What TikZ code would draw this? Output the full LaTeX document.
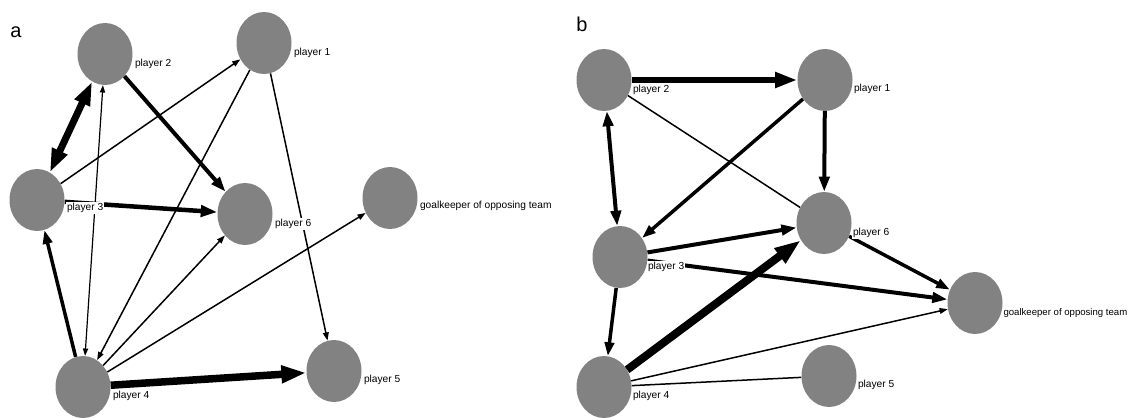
\documentclass[tikz,border=0pt]{standalone}
\usepackage{fontspec}
\setmainfont{Liberation Sans}
\usetikzlibrary{arrows.meta,shapes.geometric}
\definecolor{nodegray}{RGB}{130,130,130}
\pgfdeclarelayer{edges}
\pgfsetlayers{edges,main}
\tikzset{
  player/.style={ellipse, fill=nodegray, minimum width=55pt, minimum height=62pt, inner sep=0pt},
  lab/.style={anchor=west, fill=white, inner sep=0.8pt, font=\fontsize{10.2}{11}\selectfont},
  panel/.style={font=\fontsize{20}{22}\selectfont, inner sep=0pt},
  tip/.tip={Triangle[length=4pt 2.8, width=3pt 1.8]},
  pass/.style={draw=black, line join=miter, -tip},
  both/.style={draw=black, line join=miter, tip-tip},
  plain/.style={draw=black},
}
\begin{document}
\begin{tikzpicture}[x=1pt, y=-1pt]
\useasboundingbox (0,0) rectangle (1131,419);

% ---------- panel a ----------
\node[panel] (ta) at (16,32) {a};
\node[player] (p1a) at (264,43)  {};
\node[player] (p2a) at (105,54)  {};
\node[player] (p3a) at (37,200)  {};
\node[player] (p6a) at (245,214) {};
\node[player] (gka) at (390,198) {};
\node[player] (p4a) at (83,387)  {};
\node[player] (p5a) at (334,371) {};

\begin{pgfonlayer}{edges}
  \draw[both, line width=7pt]   (p3a) -- (p2a);
  \draw[pass, line width=1.5pt] (p3a) -- (p1a);
  \draw[pass, line width=4pt]   (p2a) -- (p6a);
  \draw[both, line width=1.2pt] (p2a) -- (p4a);
  \draw[pass, line width=4.5pt] (p3a) -- (p6a);
  \draw[pass, line width=1.5pt] (p1a) -- (p4a);
  \draw[pass, line width=1.5pt] (p1a) -- (p5a);
  \draw[pass, line width=3.5pt] (p4a) -- (p3a);
  \draw[pass, line width=1.5pt] (p4a) -- (p6a);
  \draw[pass, line width=1.5pt] (p4a) -- (gka);
  \draw[pass, line width=7.5pt] (p4a) -- (p5a);
\end{pgfonlayer}

\node[lab] (l1a) at ([shift={(29,10)}]p1a.center) {player 1};
\node[lab] (l2a) at ([shift={(29,10)}]p2a.center) {player 2};
\node[lab] (l3a) at ([shift={(29,8)}]p3a.center)  {player 3};
\node[lab] (l6a) at ([shift={(29,10)}]p6a.center) {player 6};
\node[lab] (lga) at ([shift={(29,8)}]gka.center)  {goalkeeper of opposing team};
\node[lab] (l4a) at ([shift={(29,9)}]p4a.center)  {player 4};
\node[lab] (l5a) at ([shift={(29,9)}]p5a.center)  {player 5};

% ---------- panel b ----------
\node[panel] (tb) at (582,24) {b};
\node[player] (p2b) at (604,80)  {};
\node[player] (p1b) at (825,80)  {};
\node[player] (p6b) at (824,223) {};
\node[player] (p3b) at (620,257) {};
\node[player] (gkb) at (975,303) {};
\node[player] (p4b) at (604,387) {};
\node[player] (p5b) at (829,376) {};

\begin{pgfonlayer}{edges}
  \draw[pass, line width=6.5pt] (p2b) -- (p1b);
  \draw[plain, line width=1.5pt] (p2b) -- (p6b);
  \draw[pass, line width=3.5pt] (p1b) -- (p3b);
  \draw[pass, line width=4pt]   (p1b) -- (p6b);
  \draw[both, line width=4pt]   (p2b) -- (p3b);
  \draw[pass, line width=4pt]   (p3b) -- (p6b);
  \draw[pass, line width=4pt]   (p3b) -- (gkb);
  \draw[pass, line width=3.5pt] (p6b) -- (gkb);
  \draw[pass, line width=3.5pt] (p3b) -- (p4b);
  \draw[pass, line width=8pt]   (p4b) -- (p6b);
  \draw[pass, line width=1.5pt] (p4b) -- (gkb);
  \draw[plain, line width=1.5pt] (p4b) -- (p5b);
\end{pgfonlayer}

\node[lab] (l2b) at ([shift={(28,10)}]p2b.center) {player 2};
\node[lab] (l1b) at ([shift={(28,9)}]p1b.center)  {player 1};
\node[lab] (l6b) at ([shift={(28,10)}]p6b.center) {player 6};
\node[lab] (l3b) at ([shift={(27,10)}]p3b.center) {player 3};
\node[lab, font=\fontsize{9.6}{11}\selectfont] (lgb) at ([shift={(27.5,10)}]gkb.center) {goalkeeper of opposing team};
\node[lab] (l4b) at ([shift={(28,9)}]p4b.center)  {player 4};
\node[lab] (l5b) at ([shift={(28,9)}]p5b.center)  {player 5};
\end{tikzpicture}
\end{document}
